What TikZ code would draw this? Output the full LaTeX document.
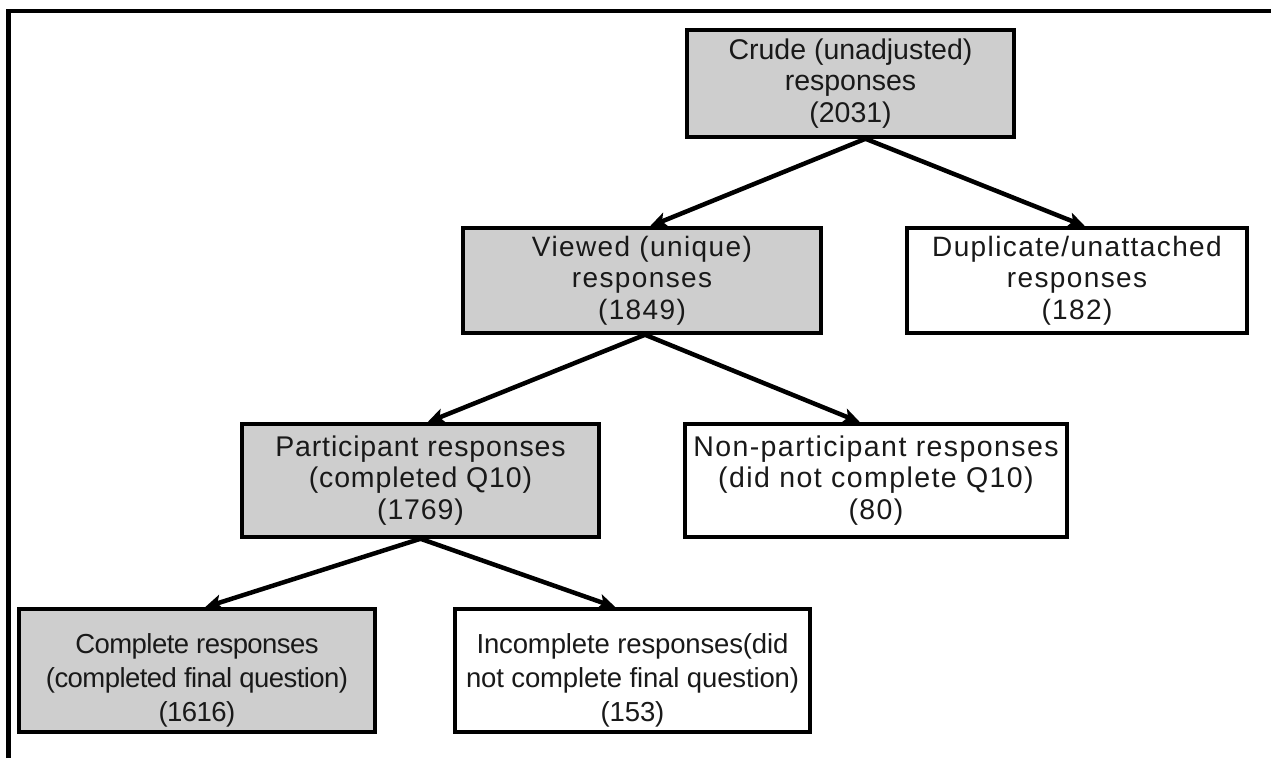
\documentclass[tikz,border=0pt]{standalone}
\usepackage{fontspec}
\setmainfont{Liberation Sans}
\usetikzlibrary{arrows.meta}
\definecolor{boxgray}{RGB}{206,206,206}
\definecolor{txt}{RGB}{25,25,25}
\newcommand{\lowtext}[1]{\raisebox{-10pt}[\height][\depth]{\begin{tabular}{@{}c@{}}#1\end{tabular}}}
\begin{document}
\begin{tikzpicture}[x=1pt,y=-1pt,
  box/.style={draw=black,line width=3.5pt,align=center,inner sep=0pt,text=txt},
  fs/.style 2 args={font=\fontsize{#1}{31.5}\selectfont\addfontfeature{LetterSpace=#2}},
  fsl/.style 2 args={font=\fontsize{#1}{34}\selectfont\addfontfeature{LetterSpace=#2}},
  shaded/.style={box,fill=boxgray},
  plain/.style={box,fill=white},
  conn/.style={line width=4.5pt,-{Stealth[length=17pt,width=15pt,inset=4pt]}}]
\useasboundingbox (0,0) rectangle (1271,758);
\draw[line width=4.5pt] (8.5,758) -- (8.5,11) -- (1271,11);
\node[shaded,fs={28.5}{0},minimum width=327pt,minimum height=107pt] (crude) at (850.5,83.5)
  {Crude (unadjusted)\\responses\\(2031)};
\node[shaded,fs={28}{5},minimum width=358pt,minimum height=105pt] (viewed) at (642,280.5)
  {Viewed (unique)\\responses\\(1849)};
\node[plain,fs={28}{5},minimum width=340pt,minimum height=105pt] (dup) at (1077,280.5)
  {Duplicate/unattached\\responses\\(182)};
\node[shaded,fs={28.5}{3},minimum width=357pt,minimum height=113pt] (part) at (420.5,480.5)
  {Participant responses\\(completed Q10)\\(1769)};
\node[plain,fs={28.5}{5},minimum width=382pt,minimum height=113pt] (nonpart) at (876,480.5)
  {Non-participant responses\\(did not complete Q10)\\(80)};
\node[shaded,fsl={27.5}{-2},minimum width=356pt,minimum height=123pt] (complete) at (197,670.5)
  {\lowtext{Complete responses\\(completed final question)\\(1616)}};
\node[plain,fsl={27.5}{-0.5},minimum width=355pt,minimum height=123pt] (incomplete) at (632.5,670.5)
  {\lowtext{Incomplete responses(did\\not complete final question)\\(153)}};
\draw[conn] ([xshift=15pt]crude.south) -- ([xshift=8pt]viewed.north);
\draw[conn] ([xshift=15pt]crude.south) -- ([xshift=8pt]dup.north);
\draw[conn] ([xshift=3pt]viewed.south) -- ([xshift=7pt]part.north);
\draw[conn] ([xshift=3pt]viewed.south) -- ([xshift=-16pt]nonpart.north);
\draw[conn] ([xshift=0pt]part.south) -- ([xshift=8pt]complete.north);
\draw[conn] ([xshift=0pt]part.south) -- ([xshift=-17pt]incomplete.north);
\end{tikzpicture}
\end{document}
